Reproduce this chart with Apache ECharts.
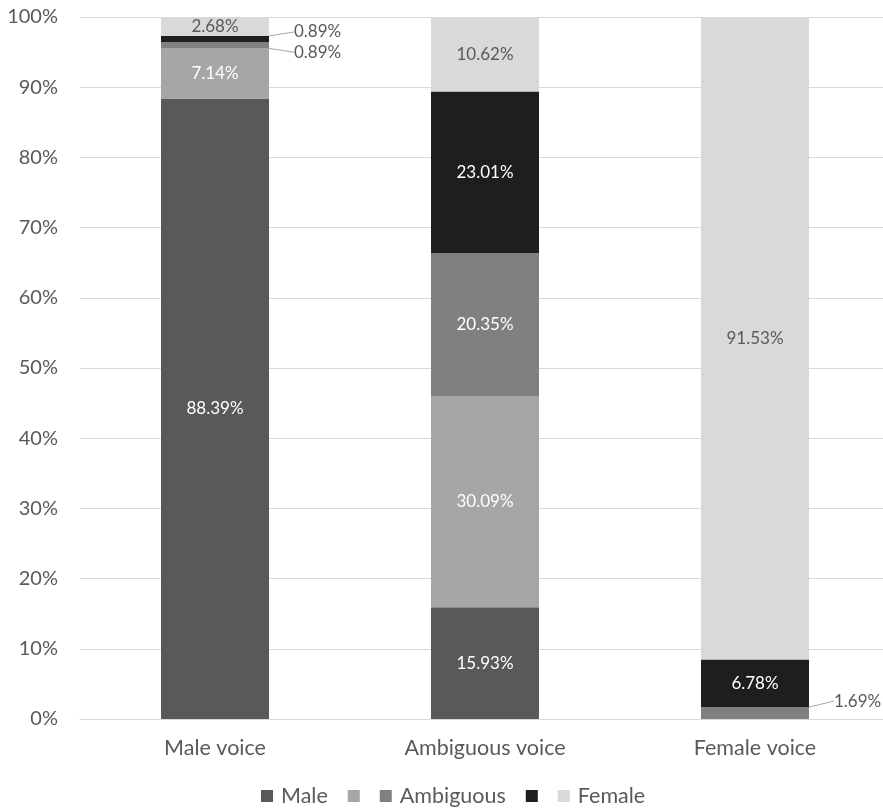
<!DOCTYPE html>
<html>
<head>
<meta charset="utf-8">
<script src="https://cdn.jsdelivr.net/npm/echarts@6/dist/echarts.min.js"></script>
<style>
  html, body { margin: 0; padding: 0; background: #ffffff; }
  #chart { width: 883px; height: 810px; }
</style>
</head>
<body>
<div id="chart"></div>
<script>
// Perceived gender of the voice, share of responses per stimulus (%)
const categories = ['Male voice', 'Ambiguous voice', 'Female voice'];
const yTicks = [0, 10, 20, 30, 40, 50, 60, 70, 80, 90, 100];

const maleValues      = [88.39, 15.93, 0];
const mostlyMale      = [7.14, 30.09, 0];
const ambiguousValues = [0.89, 20.35, 1.69];
const mostlyFemale    = [0.89, 23.01, 6.78];
const femaleValues    = [2.68, 10.62, 91.53];

const seriesDefs = [
  { name: 'Male',      legendText: 'Male',      values: maleValues,      color: '#595959', text: '#ffffff' },
  { name: ' ',         legendText: '',          values: mostlyMale,      color: '#a6a6a6', text: '#ffffff' },
  { name: 'Ambiguous', legendText: 'Ambiguous', values: ambiguousValues, color: '#808080', text: '#ffffff' },
  { name: '  ',        legendText: '',          values: mostlyFemale,    color: '#1e1e1e', text: '#ffffff' },
  { name: 'Female',    legendText: 'Female',    values: femaleValues,    color: '#d9d9d9', text: '#595959' }
];

const FONT = 'Lato, "Open Sans", sans-serif';
const TEXT_GREY = '#595959';
const SMALL = 2; // segments thinner than this get an outside callout

function isCallout(sIdx, dIdx) {
  const v = seriesDefs[sIdx].values[dIdx];
  return v > 0 && v < SMALL;
}

const chart = echarts.init(document.getElementById('chart'), null, { renderer: 'canvas' });

const series = seriesDefs.map((def, sIdx) => ({
  name: def.name,
  type: 'bar',
  stack: 'total',
  barWidth: '40%',
  itemStyle: { color: def.color },
  data: def.values.map((v, dIdx) => {
    const outside = isCallout(sIdx, dIdx);
    return {
      value: v,
      label: outside ? { color: TEXT_GREY } : { color: def.text },
      labelLine: { show: outside, lineStyle: { color: '#a6a6a6', width: 1 } }
    };
  }),
  label: {
    show: true,
    position: 'inside',
    fontFamily: FONT,
    fontSize: 17,
    formatter: p => (p.value > 0 ? p.value.toFixed(2) + '%' : '')
  },
  labelLayout: function (params) {
    const sIdx = params.seriesIndex;
    const dIdx = params.dataIndex;
    if (!isCallout(sIdx, dIdx)) return {};
    const r = params.rect;
    const x0 = r.x + r.width;
    const y0 = r.y + r.height / 2;
    // go downward when the segment above also needs a callout, otherwise upward
    const aboveIsCallout = sIdx + 1 < seriesDefs.length && isCallout(sIdx + 1, dIdx);
    const belowIsCallout = sIdx > 0 && isCallout(sIdx - 1, dIdx);
    let dy;
    if (aboveIsCallout) dy = 7;
    else if (belowIsCallout) dy = -7;
    else dy = -12;
    const x1 = x0 + 10;
    const y1 = y0 + dy;
    const x2 = x1 + 12;
    return {
      x: x2 + 3,
      y: y1,
      align: 'left',
      verticalAlign: 'middle',
      labelLinePoints: [[x0, y0], [x1, y1], [x2, y1]]
    };
  }
}));

const legendText = {};
seriesDefs.forEach(d => { legendText[d.name] = d.legendText; });

chart.setOption({
  animation: false,
  backgroundColor: '#ffffff',
  grid: { left: 80, top: 17, width: 810, height: 702, outerBoundsMode: 'none', containLabel: false },
  xAxis: {
    type: 'category',
    data: categories,
    axisLine: { show: true, lineStyle: { color: '#d9d9d9', width: 1 } },
    axisTick: { show: false },
    axisLabel: { color: TEXT_GREY, fontFamily: FONT, fontSize: 21.5, margin: 18 }
  },
  yAxis: {
    type: 'value',
    min: yTicks[0],
    max: yTicks[yTicks.length - 1],
    interval: yTicks[1] - yTicks[0],
    axisLine: { show: false },
    axisTick: { show: false },
    splitLine: { lineStyle: { color: '#d9d9d9', width: 1 } },
    axisLabel: { color: TEXT_GREY, fontFamily: FONT, fontSize: 20, margin: 22, formatter: '{value}%' }
  },
  legend: {
    left: 256,
    top: 780,
    icon: 'rect',
    itemWidth: 12,
    itemHeight: 12,
    itemGap: 20,
    data: seriesDefs.map(d => d.name),
    formatter: name => legendText[name],
    textStyle: { color: TEXT_GREY, fontFamily: FONT, fontSize: 21.5, padding: [0, 0, 0, 3] }
  },
  series: series
});
</script>
</body>
</html>
